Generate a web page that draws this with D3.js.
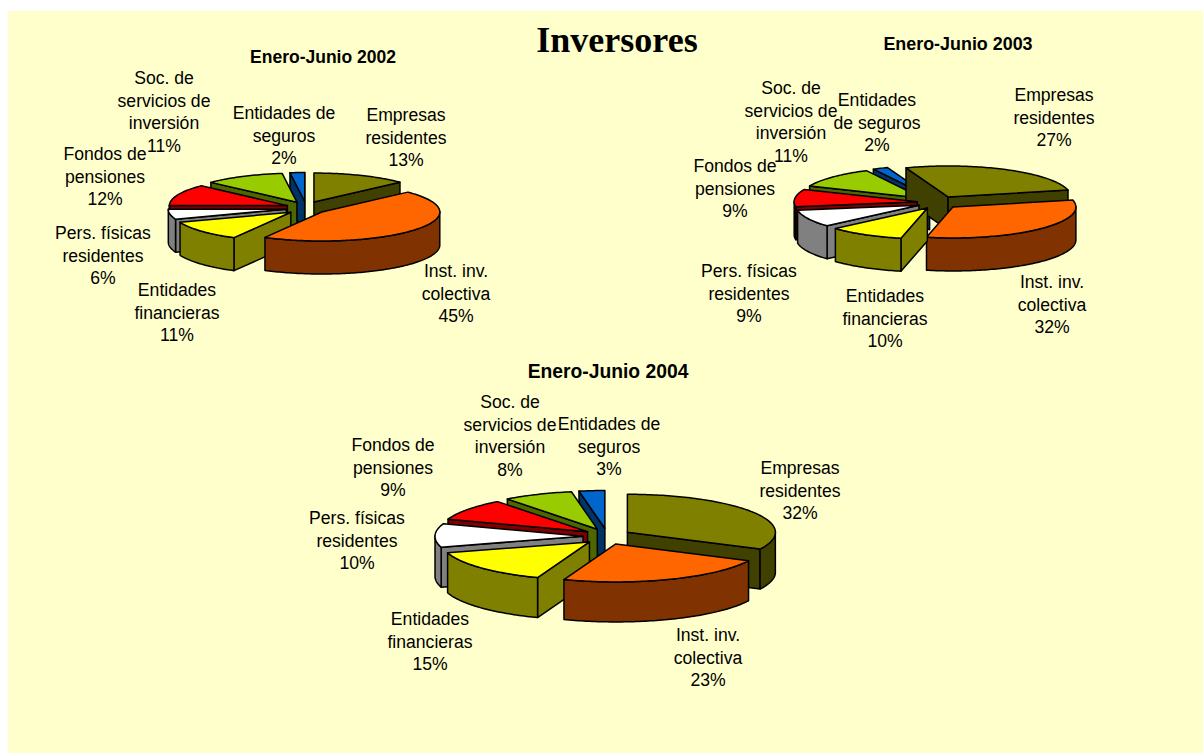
<!DOCTYPE html>
<html><head><meta charset="utf-8">
<style>html,body{margin:0;padding:0;background:#fff}svg{display:block}</style>
<script src="https://cdn.jsdelivr.net/npm/d3@7"></script>
</head><body><svg id="c" width="1203" height="753"></svg>
<script>
const chartTitle = "Inversores";
const subtitles = ["Enero-Junio 2002", "Enero-Junio 2003", "Enero-Junio 2004"];
const categories = ["Empresas residentes","Inst. inv. colectiva","Entidades financieras","Pers. físicas residentes","Fondos de pensiones","Soc. de servicios de inversión","Entidades de seguros"];
const values2002 = [13, 45, 11.4, 5.6, 12, 11, 2];
const values2003 = [27, 32, 10, 9, 9, 11, 2];
const values2004 = [32.3, 23.4, 14.7, 10, 9.2, 7.6, 2.8];
const topColors = ["#808000","#FF6600","#FFFF00","#FFFFFF","#FF0000","#99CC00","#0066CC"];
const sideColors = ["#404000","#803300","#808000","#808080","#800000","#4D6600","#003366"];
const lines2002 = [["Empresas","residentes"],["Inst. inv.","colectiva"],["Entidades","financieras"],["Pers. físicas","residentes"],["Fondos de","pensiones"],["Soc. de","servicios de","inversión"],["Entidades de","seguros"]];
const lines2003 = [["Empresas","residentes"],["Inst. inv.","colectiva"],["Entidades","financieras"],["Pers. físicas","residentes"],["Fondos de","pensiones"],["Soc. de","servicios de","inversión"],["Entidades","de seguros"]];
const lines2004 = lines2002;

// layout
const layouts = [
 {values:values2002, lines:lines2002, cx:306, cy:208, rx:118, ry:29, depth:33, ex:20, ey:6.5, start:0,
  title:[323,63], titleSize:17.5,
  labels:[[406,121],[456,277],[177,296],[103,239],[105,160],[164,84],[284,119]]},
 {values:values2003, lines:lines2003, cx:938, cy:202.5, rx:123, ry:31, depth:33, ex:21, ey:6.3, start:-20,
  title:[958,50], titleSize:17.9,
  labels:[[1054,101],[1052,288],[885,302],[749,277],[735,172],[791,94],[877,106]]},
 {values:values2004, lines:lines2004, cx:607, cy:536.5, rx:148, ry:38, depth:40, ex:24, ey:8, start:0,
  title:[608,378], titleSize:19.3,
  labels:[[800,474],[708,641],[430,625],[357,524],[393,451],[510,408],[609,430]]}
];

const svg = d3.select("#c");
svg.append("rect").attr("x",8).attr("y",11).attr("width",1195).attr("height",742).attr("fill","#FFFFCC");
svg.append("text").attr("x",617).attr("y",52).attr("text-anchor","middle")
  .attr("font-family","'Liberation Serif'").attr("font-weight","bold").attr("font-size",36).attr("fill","#000").text(chartTitle);

const line = d3.line();
const LH = 22.6;
layouts.forEach((L,k)=>{
  const g = svg.append("g");
  const x = d3.scaleLinear().domain([-1,1]).range([-L.rx,L.rx]);
  const y = d3.scaleLinear().domain([-1,1]).range([-L.ry,L.ry]);
  const s0 = L.start*Math.PI/180;
  const arcs = d3.pie().sort(null).startAngle(s0).endAngle(s0+2*Math.PI)(L.values)
    .map((d,i)=>{
      const mid=(d.startAngle+d.endAngle)/2;
      // lowest screen point of the rim decides the drawing order
      const incl180 = d.startAngle<=Math.PI && d.endAngle>=Math.PI;
      const low = incl180 ? 1 : Math.max(-Math.cos(d.startAngle),-Math.cos(d.endAngle));
      return {...d,i,mid,low:L.cy-L.ey*Math.cos(mid)+L.ry*low};
    });
  d3.sort(arcs,a=>a.low).forEach(a=>{
    const tx = L.cx + L.ex*Math.sin(a.mid), ty = L.cy - L.ey*Math.cos(a.mid);
    const pt = t=>[tx+x(Math.sin(t)), ty+y(-Math.cos(t))];
    const n = Math.max(8,Math.ceil((a.endAngle-a.startAngle)/0.02));
    const angs = d3.range(n+1).map(j=>a.startAngle+(a.endAngle-a.startAngle)*j/n);
    const style = (p,c)=>p.attr("fill",c).attr("stroke","#000").attr("stroke-width",1.5).attr("stroke-linejoin","round");
    const down = p=>[p[0],p[1]+L.depth];
    const S = sideColors[a.i];
    // radial faces
    if(Math.sin(a.startAngle)<0){
      const c = pt(a.startAngle);
      style(g.append("path").attr("d",line([[tx,ty],c,down(c),[tx,ty+L.depth]])+"Z"),S);
    }
    if(Math.sin(a.endAngle)>0){
      const c = pt(a.endAngle);
      style(g.append("path").attr("d",line([[tx,ty],c,down(c),[tx,ty+L.depth]])+"Z"),S);
    }
    // outer wall: front-facing part of the rim
    const front = angs.filter(t=>Math.cos(t)<=0.02);
    if(front.length>1){
      const top = front.map(pt);
      style(g.append("path").attr("d",line(top.concat(top.slice().reverse().map(down)))+"Z"),S);
    }
    // top face
    style(g.append("path").attr("d",line([[tx,ty]].concat(angs.map(pt)))+"Z"),topColors[a.i]);
  });
  // subtitle
  svg.append("text").attr("x",L.title[0]).attr("y",L.title[1]).attr("text-anchor","middle")
    .attr("font-family","'Liberation Sans'").attr("font-weight","bold").attr("font-size",L.titleSize).attr("fill","#000").text(subtitles[k]);
  // labels
  L.values.forEach((v,i)=>{
    const ls = L.lines[i].concat([Math.round(v)+"%"]);
    const t = svg.append("text").attr("text-anchor","middle")
      .attr("font-family","'Liberation Sans'").attr("font-size",17.6).attr("fill","#000");
    ls.forEach((s,j)=>t.append("tspan").attr("x",L.labels[i][0]).attr("y",L.labels[i][1]+j*LH).text(s));
  });
});
</script></body></html>
